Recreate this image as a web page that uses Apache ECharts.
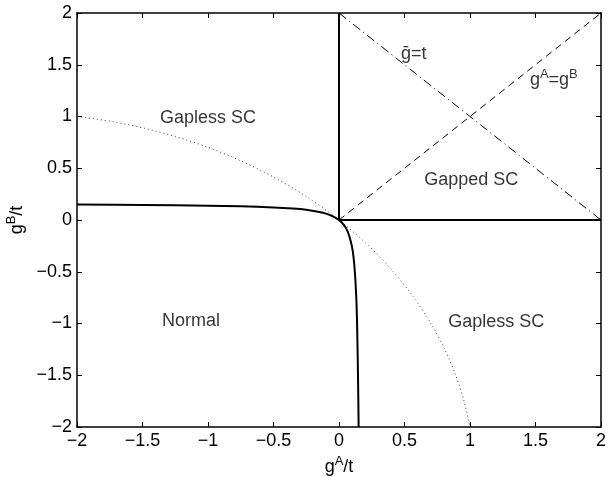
<!DOCTYPE html>
<html>
<head>
<meta charset="utf-8">
<script src="https://cdn.jsdelivr.net/npm/echarts@6/dist/echarts.min.js"></script>
<style>
  html, body { margin: 0; padding: 0; background: #fff; }
  #chart { width: 608px; height: 477px; }
</style>
</head>
<body>
<div id="chart"></div>
<script>
// phase boundary (thick curve, normal / gapless)
const boundaryX = [-2, -1.5, -1, -0.75, -0.5, -0.35, -0.25, -0.15, -0.1, -0.05, 0,
  0.038, 0.062, 0.077, 0.098, 0.11, 0.121, 0.132, 0.138, 0.145, 0.15];
const boundaryY = [0.15, 0.145, 0.138, 0.132, 0.121, 0.11, 0.098, 0.077, 0.062, 0.038, 0,
  -0.05, -0.1, -0.15, -0.25, -0.35, -0.5, -0.75, -1, -1.5, -2];

// dotted curve
const dotX = [-2, -1.75, -1.5, -1.25, -1, -0.75, -0.5, -0.25, 0,
  0.227, 0.415, 0.572, 0.702, 0.807, 0.891, 0.955, 1];
const dotY = [1, 0.955, 0.891, 0.807, 0.702, 0.572, 0.415, 0.227, 0,
  -0.25, -0.5, -0.75, -1, -1.25, -1.5, -1.75, -2];

// gapped SC region edges
const edgeVX = [0, 0];
const edgeVY = [0, 2];
const edgeHX = [0, 2];
const edgeHY = [0, 0];

// g^A = g^B (dashed) and gbar = t (dash-dot)
const diagX = [0, 2];
const diagY = [0, 2];
const antiX = [0, 2];
const antiY = [2, 0];

// text annotations
const noteX = [-1.0, 1.01, -1.13, 1.2, 0.57, 1.64];
const noteY = [0.99, 0.39, -0.98, -0.985, 1.62, 1.37];
const noteText = ['Gapless SC', 'Gapped SC', 'Normal', 'Gapless SC',
  '{t|ḡ=t}', '{t|g}{s|A}{t|=g}{s|B}'];

const pairs = (xs, ys) => xs.map((x, i) => [x, ys[i]]);
const fmt = (v) => (v < 0 ? '\u2212' : '') + Math.abs(v);

const fontFamily = 'Liberation Sans, Arial, sans-serif';
const supRich = {
  t: { fontSize: 18, fontFamily: fontFamily, color: '#000', lineHeight: 21, verticalAlign: 'bottom' },
  s: { fontSize: 13, fontFamily: fontFamily, color: '#000', lineHeight: 21, verticalAlign: 'top' },
};

const baseAxis = {
  type: 'value',
  min: -2,
  max: 2,
  interval: 0.5,
  axisLine: { show: true, onZero: false, lineStyle: { color: '#000', width: 1.5 } },
  axisTick: { show: true, inside: true, length: 5, lineStyle: { color: '#000', width: 1 } },
  splitLine: { show: false },
};

const option = {
  animation: false,
  backgroundColor: '#fff',
  grid: { left: 77, right: 7, top: 13, bottom: 50, outerBoundsMode: 'none', containLabel: false },
  xAxis: [
    Object.assign({}, baseAxis, {
      position: 'bottom',
      axisLabel: { formatter: fmt, fontSize: 18, fontFamily: fontFamily, color: '#000', margin: 5 },
      name: '{t|g}{s|A}{t|/t}',
      nameLocation: 'middle',
      nameGap: 26,
      nameTextStyle: { rich: supRich },
    }),
    Object.assign({}, baseAxis, { position: 'top', axisLabel: { show: false } }),
  ],
  yAxis: [
    Object.assign({}, baseAxis, {
      position: 'left',
      axisLabel: { formatter: fmt, fontSize: 18, fontFamily: fontFamily, color: '#000', margin: 5 },
      name: '{t|g}{s|B}{t|/t}',
      nameLocation: 'middle',
      nameGap: 46,
      nameTextStyle: { rich: supRich },
    }),
    Object.assign({}, baseAxis, { position: 'right', axisLabel: { show: false } }),
  ],
  series: [
    {
      type: 'line', data: pairs(dotX, dotY), symbol: 'none', smooth: 0.3,
      lineStyle: { color: '#444', width: 1, type: [1, 3] },
    },
    {
      type: 'line', data: pairs(diagX, diagY), symbol: 'none',
      lineStyle: { color: '#000', width: 1, type: [7, 5] },
    },
    {
      type: 'line', data: pairs(antiX, antiY), symbol: 'none',
      lineStyle: { color: '#000', width: 1, type: [9, 4, 1, 4] },
    },
    {
      type: 'line', data: pairs(edgeVX, edgeVY), symbol: 'none',
      lineStyle: { color: '#000', width: 2 },
    },
    {
      type: 'line', data: pairs(edgeHX, edgeHY), symbol: 'none',
      lineStyle: { color: '#000', width: 2 },
    },
    {
      type: 'line', data: pairs(boundaryX, boundaryY), symbol: 'none', smooth: 0.3,
      lineStyle: { color: '#000', width: 2 },
    },
    {
      type: 'scatter',
      symbolSize: 0,
      data: noteX.map((x, i) => [x, noteY[i], noteText[i]]),
      label: {
        show: true,
        position: 'inside',
        formatter: (p) => p.data[2],
        fontSize: 18,
        fontFamily: fontFamily,
        color: '#000',
        rich: supRich,
      },
      z: 10,
    },
  ],
};

const chart = echarts.init(document.getElementById('chart'), null, { renderer: 'canvas' });
chart.setOption(option);
</script>
</body>
</html>
